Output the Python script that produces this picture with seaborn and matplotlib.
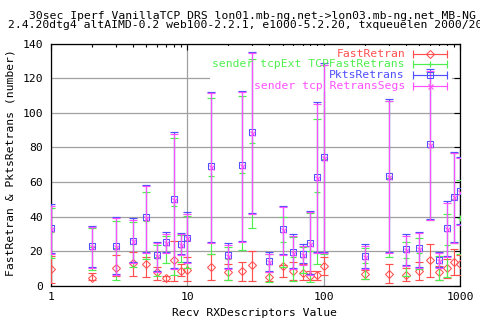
import matplotlib
matplotlib.use("Agg")
import matplotlib.pyplot as plt
import seaborn as sns
import numpy as np
from matplotlib.lines import Line2D
from matplotlib.patches import Rectangle

# ---------------- data ----------------
x_vals = [1, 2, 3, 4, 5, 6, 7, 8, 9, 10, 15, 20, 25, 30, 40, 50, 60, 70, 80, 90,
          100, 200, 300, 400, 500, 600, 700, 800, 900, 1000]

red_mean = [9.8, 4.8, 10.2, 13.0, 12.7, 8.0, 4.4, 15.0, 8.7, 9.0, 10.8, 7.9, 8.7, 12.1, 5.4,
            11.5, 8.7, 7.3, 6.0, 6.3, 11.7, 6.9, 6.9, 6.4, 8.9, 15.0, 8.3, 10.2, 14.0, 12.7]
red_hi = [17.5, 7.3, 17.9, 19.8, 17.0, 11.0, 6.0, 26.2, 12.5, 16.5, 18.5, 12.5, 14.0, 20.4, 8.3,
          12.2, 14.0, 12.7, 8.8, 8.8, 16.5, 9.2, 12.5, 10.2, 13.7, 24.2, 11.5, 15.5, 21.2, 17.9]
red_lo = [1.5, 3.5, 6.0, 5.8, 5.0, 3.5, 2.9, 3.0, 5.8, 3.0, 3.5, 3.5, 2.9, 2.9, 2.9,
          5.4, 3.5, 3.5, 3.5, 3.5, 6.3, 3.8, 1.5, 3.0, 3.5, 5.4, 3.5, 4.5, 6.4, 6.4]

green_mean = [31.0, 22.5, 22.0, 24.5, 37.5, 16.5, 23.5, 46.0, 22.5, 26.5, 63.5, 15.5, 65.4, 82.3, 12.5,
              25.2, 17.0, 17.0, 20.0, 54.0, 73.3, 13.5, 62.5, 16.0, 18.9, 80.0, 11.0, 23.7, 50.0, 39.0]
green_hi = [44.9, 33.7, 37.7, 36.7, 54.0, 23.7, 29.0, 85.2, 29.4, 40.4, 108.4, 22.5, 109.7, 130.9, 18.5,
            39.6, 28.5, 22.7, 41.9, 96.3, 127.6, 21.7, 106.8, 25.6, 27.5, 123.5, 17.3, 41.4, 77.0, 61.2]
green_lo = [16.0, 9.2, 3.5, 10.8, 15.4, 5.8, 13.0, 6.3, 13.7, 10.2, 18.5, 3.5, 20.8, 33.7, 2.5,
            11.2, 3.1, 7.7, 2.5, 12.7, 18.5, 3.8, 16.6, 6.0, 10.0, 38.0, 3.5, 5.0, 24.6, 18.3]

blue_mean = [33.3, 23.3, 23.3, 26.2, 39.6, 17.9, 25.6, 50.0, 24.2, 28.0, 69.2, 17.9, 69.8, 88.7, 14.2,
             32.7, 19.8, 18.5, 25.0, 63.0, 74.2, 17.3, 63.7, 21.2, 21.7, 82.0, 15.0, 33.3, 51.6, 55.0]
blue_hi = [47.2, 34.8, 40.0, 39.0, 58.3, 25.6, 31.0, 88.7, 30.8, 42.5, 112.2, 24.6, 112.8, 135.3, 19.4,
           46.3, 29.8, 24.0, 43.3, 106.0, 128.6, 24.0, 107.8, 29.8, 31.4, 125.3, 19.8, 49.0, 77.6, 74.7]
blue_lo = [19.0, 11.2, 6.7, 13.7, 19.8, 8.8, 19.8, 10.6, 18.3, 13.7, 25.6, 10.2, 26.2, 42.3, 8.8,
           18.3, 10.2, 13.0, 6.9, 19.8, 19.8, 10.6, 19.8, 12.1, 11.2, 38.7, 11.2, 17.3, 25.6, 35.6]

mag_mean = [32.8, 22.8, 22.8, 25.7, 39.1, 17.4, 25.1, 49.4, 23.7, 27.5, 68.6, 17.4, 69.2, 88.1, 13.7,
            32.2, 19.3, 18.0, 24.5, 62.5, 73.7, 16.8, 63.2, 20.7, 21.2, 81.5, 14.5, 32.8, 51.1, 54.5]
mag_hi = [46.4, 34.0, 39.2, 38.2, 57.6, 24.8, 30.2, 87.9, 30.0, 41.7, 111.4, 23.8, 112.0, 134.5, 18.6,
          45.6, 29.0, 23.2, 42.5, 105.2, 127.8, 23.2, 107.0, 29.0, 30.6, 124.3, 19.0, 48.2, 76.8, 73.9]
mag_lo = [18.4, 10.6, 6.1, 13.1, 19.2, 8.2, 19.2, 10.0, 17.7, 13.1, 25.0, 9.6, 25.6, 41.7, 8.2,
          17.7, 9.6, 12.4, 6.3, 19.2, 19.2, 10.0, 19.2, 11.5, 10.6, 38.1, 10.6, 16.7, 25.0, 35.0]

labels = ["FastRetran", "sender tcpExt TCPFastRetrans", "PktsRetrans", "sender tcp RetransSegs"]
title_lines = ["30sec Iperf VanillaTCP DRS lon01.mb-ng.net->lon03.mb-ng.net MB-NG",
               "2.4.20dtg4 altAIMD-0.2 web100-2.2.1, e1000-5.2.20, txqueuelen 2000/2000"]
xlabel = "Recv RXDescriptors Value"
ylabel = "FastRetran & PktsRetrans (number)"
xticks = [1, 10, 100, 1000]
xtick_labels = ["1", "10", "100", "1000"]
yticks = [0, 20, 40, 60, 80, 100, 120, 140]

# ---------------- style ----------------
sns.set_theme(style="white")
FONT = ["DejaVu Sans Mono"]
plt.rcParams["font.family"] = FONT
FS = 8.2

colors = ["#ff4f4f", "#4fef4f", "#4f4fff", "#ff4fff"]
markers = ["D", "+", "s", "x"]
msizes = [3.6, 4.6, 5.0, 3.6]
mews = [0.75, 0.85, 0.75, 0.8]
filled = [False, True, False, True]

W, H = 480, 320
fig = plt.figure(figsize=(W / 100, H / 100), dpi=100)
L, R, T, B = 51, 460, 43.5, 286
ax = fig.add_axes([L / W, 1 - B / H, (R - L) / W, (B - T) / H])
ax.set_axisbelow(True)

series = [
    (red_mean, red_lo, red_hi),
    (green_mean, green_lo, green_hi),
    (blue_mean, blue_lo, blue_hi),
    (mag_mean, mag_lo, mag_hi),
]

x = np.array(x_vals, dtype=float)
for i, (m, lo, hi) in enumerate(series):
    m = np.array(m); lo = np.array(lo); hi = np.array(hi)
    ax.errorbar(x, m, yerr=[m - lo, hi - m], fmt="none", ecolor=colors[i],
                elinewidth=0.85, capsize=3.0, capthick=0.85, zorder=3 + i * 0.1)
    sns.lineplot(x=x, y=m, ax=ax, color=colors[i], linestyle="none",
                 marker=markers[i], markersize=msizes[i],
                 markerfacecolor="none" if not filled[i] else colors[i],
                 markeredgecolor=colors[i], markeredgewidth=mews[i],
                 errorbar=None, legend=False, zorder=3.05 + i * 0.1)

ax.set_xscale("log")
ax.set_xlim(1, 1000)
ax.set_ylim(0, 140)
ax.set_xticks(xticks)
ax.set_xticklabels(xtick_labels)
ax.set_yticks(yticks)
ax.set_yticklabels([str(v) for v in yticks])
ax.set_xlabel("")
ax.set_ylabel("")
ax.grid(True, which="major", color="#a0a0a0", linewidth=0.9)
ax.tick_params(which="major", direction="in", top=True, right=True, length=4.3,
               width=0.8, color="black", labelsize=FS, pad=4.5)
ax.tick_params(axis="y", pad=5.5)
ax.tick_params(which="minor", direction="in", top=True, right=True, length=2.3,
               width=0.8, color="black")
ax.tick_params(axis="y", which="minor", left=False, right=False)
for sp in ax.spines.values():
    sp.set_color("black")
    sp.set_linewidth(0.9)
for lab in ax.get_xticklabels() + ax.get_yticklabels():
    lab.set_family(FONT)
    lab.set_color("black")

# key background box (hides grid, data drawn on top)
box = Rectangle((210 / W, 1 - 92 / H), (452 - 210) / W, (92 - 46) / H,
                transform=fig.transFigure, facecolor="white", edgecolor="none",
                zorder=1, clip_on=False)
ax.add_patch(box)

# key
rows = [53.7, 64.3, 75.0, 85.7]
for i, lab in enumerate(labels):
    yf = 1 - rows[i] / H
    fig.text(405 / W, yf, lab, ha="right", va="center", color=colors[i],
             fontsize=FS, family=FONT, zorder=5)
    ax.add_line(Line2D([413 / W, 447 / W], [yf, yf], transform=fig.transFigure,
                       color=colors[i], lw=0.85, clip_on=False, zorder=5))
    ax.add_line(Line2D([413 / W, 447 / W], [yf, yf], transform=fig.transFigure,
                       color=colors[i], lw=0, marker="|", markersize=5.5,
                       markeredgewidth=0.85, clip_on=False, zorder=5))
    ax.add_line(Line2D([430 / W], [yf], transform=fig.transFigure, color=colors[i],
                       lw=0, marker=markers[i], markersize=msizes[i],
                       markerfacecolor="none" if not filled[i] else colors[i],
                       markeredgecolor=colors[i], markeredgewidth=mews[i],
                       clip_on=False, zorder=5))

# titles and labels
fig.text(252.5 / W, 1 - 20.5 / H, "\n".join(title_lines), ha="center", va="center",
         fontsize=FS, family=FONT, color="black", linespacing=0.85,
         multialignment="center")
fig.text(255 / W, 1 - 313 / H, xlabel, ha="center", va="center",
         fontsize=FS, family=FONT, color="black")
fig.text(11 / W, 1 - 163 / H, ylabel, ha="center", va="center", rotation=90,
         fontsize=FS, family=FONT, color="black")

fig.savefig("out.png", dpi=100, facecolor="white")
